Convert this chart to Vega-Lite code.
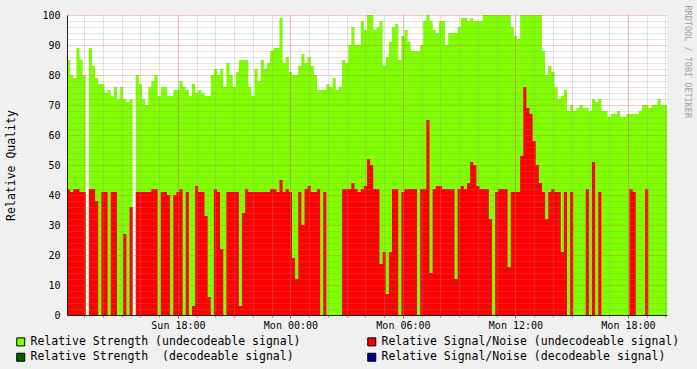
{
"$schema": "https://vega.github.io/schema/vega-lite/v6.json",
"width": 600, "height": 300,
"autosize": {"type": "none"},
"padding": {"left": 67, "top": 15, "right": 30, "bottom": 54},
"background": "#f0f0f0",
"config": {"view": {"stroke": null, "fill": "#ffffff"}, "font": "DejaVu Sans Mono"},
"data": {"format": {"parse": {"t": "date"}}, "values": [
{"t":"2007-01-07T12:05","s":85,"n":42},{"t":"2007-01-07T12:15","s":80,"n":41},{"t":"2007-01-07T12:25","s":79,"n":42},{"t":"2007-01-07T12:35","s":89,"n":42},{"t":"2007-01-07T12:45","s":85,"n":41},{"t":"2007-01-07T12:55","s":80,"n":41},
{"t":"2007-01-07T13:05","s":0,"n":0},{"t":"2007-01-07T13:15","s":89,"n":42},{"t":"2007-01-07T13:25","s":83,"n":42},{"t":"2007-01-07T13:35","s":79,"n":38},{"t":"2007-01-07T13:45","s":77,"n":0},{"t":"2007-01-07T13:55","s":77,"n":41},
{"t":"2007-01-07T14:05","s":74,"n":41},{"t":"2007-01-07T14:15","s":75,"n":0},{"t":"2007-01-07T14:25","s":73,"n":41},{"t":"2007-01-07T14:35","s":76,"n":41},{"t":"2007-01-07T14:45","s":72,"n":0},{"t":"2007-01-07T14:55","s":76,"n":0},
{"t":"2007-01-07T15:05","s":72,"n":27},{"t":"2007-01-07T15:15","s":71,"n":0},{"t":"2007-01-07T15:25","s":72,"n":36},{"t":"2007-01-07T15:35","s":0,"n":0},{"t":"2007-01-07T15:45","s":80,"n":41},{"t":"2007-01-07T15:55","s":77,"n":41},
{"t":"2007-01-07T16:05","s":72,"n":41},{"t":"2007-01-07T16:15","s":70,"n":41},{"t":"2007-01-07T16:25","s":76,"n":41},{"t":"2007-01-07T16:35","s":78,"n":42},{"t":"2007-01-07T16:45","s":80,"n":42},{"t":"2007-01-07T16:55","s":73,"n":0},
{"t":"2007-01-07T17:05","s":76,"n":41},{"t":"2007-01-07T17:15","s":76,"n":41},{"t":"2007-01-07T17:25","s":73,"n":40},{"t":"2007-01-07T17:35","s":73,"n":0},{"t":"2007-01-07T17:45","s":75,"n":40},{"t":"2007-01-07T17:55","s":75,"n":41},
{"t":"2007-01-07T18:05","s":78,"n":42},{"t":"2007-01-07T18:15","s":76,"n":0},{"t":"2007-01-07T18:25","s":75,"n":41},{"t":"2007-01-07T18:35","s":73,"n":0},{"t":"2007-01-07T18:45","s":77,"n":3},{"t":"2007-01-07T18:55","s":74,"n":43},
{"t":"2007-01-07T19:05","s":75,"n":41},{"t":"2007-01-07T19:15","s":74,"n":41},{"t":"2007-01-07T19:25","s":73,"n":33},{"t":"2007-01-07T19:35","s":73,"n":6},{"t":"2007-01-07T19:45","s":80,"n":0},{"t":"2007-01-07T19:55","s":82,"n":42},
{"t":"2007-01-07T20:05","s":80,"n":41},{"t":"2007-01-07T20:15","s":82,"n":22},{"t":"2007-01-07T20:25","s":76,"n":0},{"t":"2007-01-07T20:35","s":84,"n":41},{"t":"2007-01-07T20:45","s":80,"n":41},{"t":"2007-01-07T20:55","s":76,"n":41},
{"t":"2007-01-07T21:05","s":81,"n":41},{"t":"2007-01-07T21:15","s":85,"n":3},{"t":"2007-01-07T21:25","s":85,"n":34},{"t":"2007-01-07T21:35","s":85,"n":42},{"t":"2007-01-07T21:45","s":76,"n":41},{"t":"2007-01-07T21:55","s":73,"n":41},
{"t":"2007-01-07T22:05","s":82,"n":41},{"t":"2007-01-07T22:15","s":78,"n":41},{"t":"2007-01-07T22:25","s":85,"n":41},{"t":"2007-01-07T22:35","s":82,"n":41},{"t":"2007-01-07T22:45","s":84,"n":41},{"t":"2007-01-07T22:55","s":88,"n":42},
{"t":"2007-01-07T23:05","s":89,"n":42},{"t":"2007-01-07T23:15","s":89,"n":41},{"t":"2007-01-07T23:25","s":99,"n":45},{"t":"2007-01-07T23:35","s":84,"n":41},{"t":"2007-01-07T23:45","s":86,"n":42},{"t":"2007-01-07T23:55","s":81,"n":41},
{"t":"2007-01-08T00:05","s":80,"n":19},{"t":"2007-01-08T00:15","s":80,"n":12},{"t":"2007-01-08T00:25","s":83,"n":41},{"t":"2007-01-08T00:35","s":87,"n":30},{"t":"2007-01-08T00:45","s":84,"n":42},{"t":"2007-01-08T00:55","s":86,"n":43},
{"t":"2007-01-08T01:05","s":83,"n":41},{"t":"2007-01-08T01:15","s":80,"n":41},{"t":"2007-01-08T01:25","s":75,"n":42},{"t":"2007-01-08T01:35","s":75,"n":0},{"t":"2007-01-08T01:45","s":75,"n":41},{"t":"2007-01-08T01:55","s":77,"n":0},
{"t":"2007-01-08T02:05","s":76,"n":0},{"t":"2007-01-08T02:15","s":79,"n":0},{"t":"2007-01-08T02:25","s":75,"n":0},{"t":"2007-01-08T02:35","s":76,"n":0},{"t":"2007-01-08T02:45","s":85,"n":42},{"t":"2007-01-08T02:55","s":84,"n":42},
{"t":"2007-01-08T03:05","s":90,"n":42},{"t":"2007-01-08T03:15","s":96,"n":44},{"t":"2007-01-08T03:25","s":90,"n":42},{"t":"2007-01-08T03:35","s":90,"n":41},{"t":"2007-01-08T03:45","s":98,"n":42},{"t":"2007-01-08T03:55","s":95,"n":43},
{"t":"2007-01-08T04:05","s":100,"n":52},{"t":"2007-01-08T04:15","s":100,"n":50},{"t":"2007-01-08T04:25","s":95,"n":42},{"t":"2007-01-08T04:35","s":96,"n":42},{"t":"2007-01-08T04:45","s":98,"n":17},{"t":"2007-01-08T04:55","s":83,"n":21},
{"t":"2007-01-08T05:05","s":86,"n":7},{"t":"2007-01-08T05:15","s":91,"n":21},{"t":"2007-01-08T05:25","s":96,"n":42},{"t":"2007-01-08T05:35","s":97,"n":42},{"t":"2007-01-08T05:45","s":85,"n":0},{"t":"2007-01-08T05:55","s":93,"n":41},
{"t":"2007-01-08T06:05","s":95,"n":42},{"t":"2007-01-08T06:15","s":91,"n":42},{"t":"2007-01-08T06:25","s":88,"n":42},{"t":"2007-01-08T06:35","s":88,"n":42},{"t":"2007-01-08T06:45","s":88,"n":0},{"t":"2007-01-08T06:55","s":90,"n":42},
{"t":"2007-01-08T07:05","s":98,"n":42},{"t":"2007-01-08T07:15","s":100,"n":65},{"t":"2007-01-08T07:25","s":98,"n":14},{"t":"2007-01-08T07:35","s":95,"n":42},{"t":"2007-01-08T07:45","s":94,"n":43},{"t":"2007-01-08T07:55","s":98,"n":43},
{"t":"2007-01-08T08:05","s":98,"n":42},{"t":"2007-01-08T08:15","s":90,"n":42},{"t":"2007-01-08T08:25","s":94,"n":42},{"t":"2007-01-08T08:35","s":94,"n":42},{"t":"2007-01-08T08:45","s":94,"n":12},{"t":"2007-01-08T08:55","s":96,"n":42},
{"t":"2007-01-08T09:05","s":99,"n":43},{"t":"2007-01-08T09:15","s":99,"n":42},{"t":"2007-01-08T09:25","s":98,"n":44},{"t":"2007-01-08T09:35","s":99,"n":51},{"t":"2007-01-08T09:45","s":98,"n":50},{"t":"2007-01-08T09:55","s":98,"n":43},
{"t":"2007-01-08T10:05","s":98,"n":42},{"t":"2007-01-08T10:15","s":100,"n":42},{"t":"2007-01-08T10:25","s":100,"n":42},{"t":"2007-01-08T10:35","s":100,"n":32},{"t":"2007-01-08T10:45","s":100,"n":0},{"t":"2007-01-08T10:55","s":100,"n":41},
{"t":"2007-01-08T11:05","s":100,"n":42},{"t":"2007-01-08T11:15","s":100,"n":42},{"t":"2007-01-08T11:25","s":100,"n":42},{"t":"2007-01-08T11:35","s":100,"n":16},{"t":"2007-01-08T11:45","s":96,"n":41},{"t":"2007-01-08T11:55","s":93,"n":41},
{"t":"2007-01-08T12:05","s":92,"n":41},{"t":"2007-01-08T12:15","s":100,"n":53},{"t":"2007-01-08T12:25","s":100,"n":76},{"t":"2007-01-08T12:35","s":100,"n":69},{"t":"2007-01-08T12:45","s":100,"n":67},{"t":"2007-01-08T12:55","s":100,"n":58},
{"t":"2007-01-08T13:05","s":100,"n":50},{"t":"2007-01-08T13:15","s":100,"n":44},{"t":"2007-01-08T13:25","s":88,"n":41},{"t":"2007-01-08T13:35","s":80,"n":32},{"t":"2007-01-08T13:45","s":83,"n":41},{"t":"2007-01-08T13:55","s":81,"n":42},
{"t":"2007-01-08T14:05","s":76,"n":41},{"t":"2007-01-08T14:15","s":72,"n":41},{"t":"2007-01-08T14:25","s":73,"n":21},{"t":"2007-01-08T14:35","s":75,"n":41},{"t":"2007-01-08T14:45","s":68,"n":0},{"t":"2007-01-08T14:55","s":70,"n":41},
{"t":"2007-01-08T15:05","s":68,"n":0},{"t":"2007-01-08T15:15","s":69,"n":0},{"t":"2007-01-08T15:25","s":70,"n":0},{"t":"2007-01-08T15:35","s":69,"n":0},{"t":"2007-01-08T15:45","s":69,"n":42},{"t":"2007-01-08T15:55","s":68,"n":0},
{"t":"2007-01-08T16:05","s":72,"n":51},{"t":"2007-01-08T16:15","s":71,"n":0},{"t":"2007-01-08T16:25","s":72,"n":41},{"t":"2007-01-08T16:35","s":68,"n":0},{"t":"2007-01-08T16:45","s":68,"n":0},{"t":"2007-01-08T16:55","s":66,"n":0},
{"t":"2007-01-08T17:05","s":67,"n":0},{"t":"2007-01-08T17:15","s":67,"n":0},{"t":"2007-01-08T17:25","s":68,"n":0},{"t":"2007-01-08T17:35","s":66,"n":0},{"t":"2007-01-08T17:45","s":66,"n":0},{"t":"2007-01-08T17:55","s":67,"n":0},
{"t":"2007-01-08T18:05","s":67,"n":42},{"t":"2007-01-08T18:15","s":67,"n":41},{"t":"2007-01-08T18:25","s":67,"n":0},{"t":"2007-01-08T18:35","s":68,"n":0},{"t":"2007-01-08T18:45","s":70,"n":0},{"t":"2007-01-08T18:55","s":70,"n":42},
{"t":"2007-01-08T19:05","s":69,"n":0},{"t":"2007-01-08T19:15","s":70,"n":0},{"t":"2007-01-08T19:25","s":70,"n":0},{"t":"2007-01-08T19:35","s":72,"n":0},{"t":"2007-01-08T19:45","s":70,"n":0},{"t":"2007-01-08T19:55","s":70,"n":0},
{"t":"2007-01-08T20:05","s":70,"n":0}
]},
"layer": [
{
"mark": {"type": "area", "interpolate": "step-after"},
"encoding": {
"x": {"field": "t", "type": "temporal",
"scale": {"domain": [{"year": 2007, "month": 1, "date": 7, "hours": 12, "minutes": 5}, {"year": 2007, "month": 1, "date": 8, "hours": 20, "minutes": 5}]},
"axis": {"title": null, "format": "%a %H:%M",
"values": [{"year": 2007, "month": 1, "date": 7, "hours": 18}, {"year": 2007, "month": 1, "date": 8, "hours": 0}, {"year": 2007, "month": 1, "date": 8, "hours": 6}, {"year": 2007, "month": 1, "date": 8, "hours": 12}, {"year": 2007, "month": 1, "date": 8, "hours": 18}],
"labelFont": "DejaVu Sans Mono", "labelFontSize": 10, "labelColor": "#000000", "labelPadding": 2,
"tickSize": 3, "tickColor": "#de5050", "grid": true, "gridColor": "#de5050", "gridOpacity": 0.6, "gridDash": [1, 1],
"domainColor": "#202020", "zindex": 2}},
"y": {"field": "s", "type": "quantitative",
"scale": {"domain": [0, 100], "nice": false},
"axis": {"title": "Relative Quality", "values": [0, 10, 20, 30, 40, 50, 60, 70, 80, 90, 100],
"labelFont": "DejaVu Sans Mono", "labelFontSize": 10, "labelColor": "#000000", "labelPadding": 7,
"ticks": false, "grid": true, "gridColor": "#de5050", "gridOpacity": 0.6, "gridDash": [1, 1],
"domainColor": "#202020",
"titleFont": "DejaVu Sans Mono", "titleFontSize": 11.5, "titleFontWeight": "normal", "titleColor": "#000000", "titlePadding": 25,
"zindex": 2}},
"color": {"datum": "Relative Strength (undecodeable signal)", "type": "nominal",
"scale": {"domain": ["Relative Strength (undecodeable signal)", "Relative Strength \u00a0(decodeable signal)", "Relative Signal/Noise (undecodeable signal)", "Relative Signal/Noise (decodeable signal)"],
"range": ["#80ff00", "#006600", "#ff0000", "#000099"]},
"legend": {"title": null, "orient": "none", "legendX": -52, "legendY": 321, "columns": 2, "columnPadding": 64, "rowPadding": 2.5, "padding": 0,
"symbolType": "square", "symbolSize": 64, "symbolStrokeColor": "#000000", "symbolStrokeWidth": 1, "symbolOpacity": 1,
"labelFont": "DejaVu Sans Mono", "labelFontSize": 11.5, "labelColor": "#000000", "labelLimit": 500, "labelOffset": 4}}
}
},
{
"mark": {"type": "area", "interpolate": "step-after"},
"encoding": {
"x": {"field": "t", "type": "temporal",
"axis": {"orient": "bottom", "title": null, "labels": false, "domain": false, "tickCount": 32,
"tickSize": 2, "tickColor": "#8f8f8f", "grid": true, "gridColor": "#8f8f8f", "gridOpacity": 0.5, "gridDash": [1, 1], "zindex": 1}},
"y": {"field": "n", "type": "quantitative",
"axis": {"orient": "right", "title": "RRDTOOL / TOBI OETIKER", "labels": false, "ticks": false, "domain": false,
"values": [2, 4, 6, 8, 12, 14, 16, 18, 22, 24, 26, 28, 32, 34, 36, 38, 42, 44, 46, 48, 52, 54, 56, 58, 62, 64, 66, 68, 72, 74, 76, 78, 82, 84, 86, 88, 92, 94, 96, 98],
"grid": true, "gridColor": "#8f8f8f", "gridOpacity": 0.5, "gridDash": [1, 1], "zindex": 1,
"titleAngle": 90, "titleFont": "DejaVu Sans Mono", "titleFontSize": 8.5, "titleColor": "#a0a0a0", "titleFontWeight": "normal",
"titleAlign": "left", "titleBaseline": "middle", "titleX": 20, "titleY": -10}},
"color": {"datum": "Relative Signal/Noise (undecodeable signal)", "type": "nominal"}
}
}
],
"resolve": {"axis": {"x": "independent", "y": "independent"}}
}
